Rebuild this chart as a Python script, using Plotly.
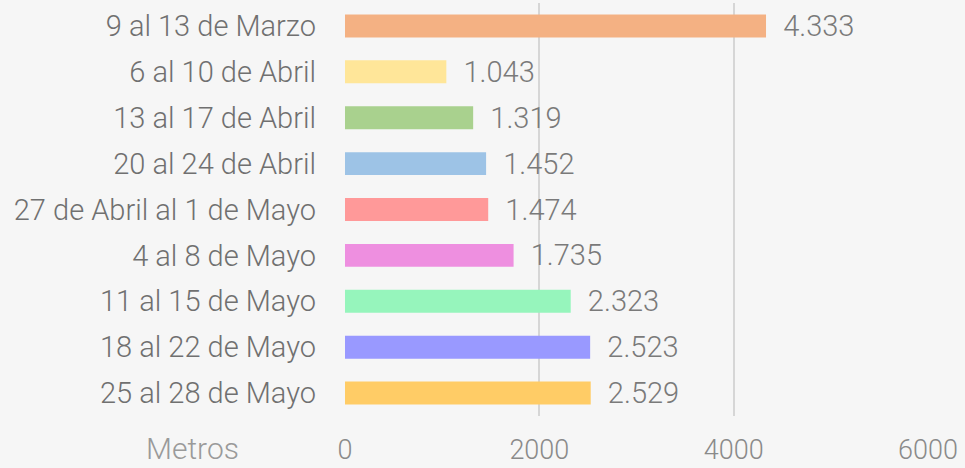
import plotly.graph_objects as go

categories = ["9 al 13 de Marzo", "6 al 10 de Abril", "13 al 17 de Abril", "20 al 24 de Abril",
              "27 de Abril al 1 de Mayo", "4 al 8 de Mayo", "11 al 15 de Mayo",
              "18 al 22 de Mayo", "25 al 28 de Mayo"]
values = [4333, 1043, 1319, 1452, 1474, 1735, 2323, 2523, 2529]
colors = ["#F4B183", "#FFE699", "#A9D18E", "#9DC3E6", "#FF9999", "#EE8FE0", "#96F5BC", "#9999FF", "#FFCC66"]
tick_vals = [0, 2000, 4000, 6000]

FONT = "Roboto, sans-serif"

fig = go.Figure(go.Bar(
    y=categories, x=values, orientation="h",
    marker=dict(color=colors, line=dict(width=0)),
    width=0.5,
    text=values, texttemplate="\u00a0\u00a0%{x:,}", textposition="outside",
    textfont=dict(family=FONT, size=29, color="#7a7a7a", weight=300),
    constraintext="none",
    cliponaxis=False,
    hoverinfo="skip",
))

fig.update_layout(
    width=965, height=468,
    margin=dict(l=345, r=37, t=3, b=52),
    separators=",.",
    paper_bgcolor="#f6f6f6", plot_bgcolor="rgba(0,0,0,0)",
    font=dict(family=FONT, size=26, color="#777777"),
    showlegend=False,
    xaxis=dict(range=[0, 6000], tickvals=tick_vals, showgrid=True, gridcolor="#d6d6d6", gridwidth=2,
               zeroline=False, showline=False, ticks="", ticklabelstandoff=15, automargin=False,
               tickfont=dict(family=FONT, size=27, color="#8a8a8a", weight=300)),
    yaxis=dict(autorange="reversed", showgrid=False, zeroline=False, ticks="", automargin=False,
               ticklabelstandoff=28, tickfont=dict(family=FONT, size=29, color="#707070", weight=300)),
    annotations=[dict(text="Metros", xref="paper", yref="paper", x=-0.262, y=-0.078,
                      xanchor="center", yanchor="middle", showarrow=False,
                      font=dict(family=FONT, size=30, color="#9a9a9a", weight=300))],
)
fig.write_html("out.html", config={"displayModeBar": False},
               post_script="document.body.style.margin='0';")
